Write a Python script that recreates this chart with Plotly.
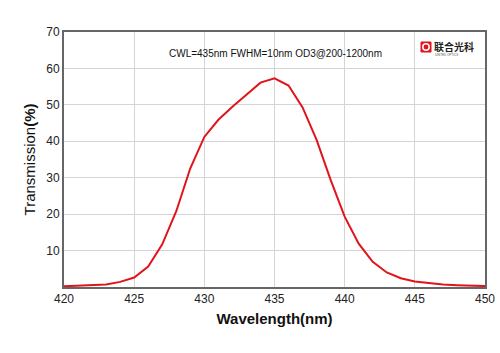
import plotly.graph_objects as go

wavelength = list(range(420, 451))
transmission = [0.2, 0.3, 0.4, 0.7, 1.4, 2.6, 5.6, 11.7, 20.8, 32.6, 41.2,
                45.9, 49.5, 52.8, 56.1, 57.3, 55.3, 49.3, 40.4, 29.4, 19.3,
                11.9, 6.9, 4.0, 2.4, 1.5, 1.0, 0.7, 0.5, 0.35, 0.25]
x_ticks = [420, 425, 430, 435, 440, 445, 450]
y_ticks = [10, 20, 30, 40, 50, 60, 70]
note = "CWL=435nm FWHM=10nm OD3@200-1200nm"

fig = go.Figure()
fig.add_trace(go.Scatter(x=wavelength, y=transmission, mode="lines",
                         line=dict(color="#e0141c", width=2), showlegend=False))

font = "Liberation Sans, Arial, sans-serif"
fig.update_layout(
    width=500, height=353,
    margin=dict(l=64, r=15, t=32, b=66, autoexpand=False),
    paper_bgcolor="white", plot_bgcolor="white",
    font=dict(family=font, color="#222"),
    xaxis=dict(range=[420, 450], tickvals=x_ticks, showgrid=True, automargin=False,
               gridcolor="#d4d4d4", gridwidth=1.3, showline=True, linecolor="#666",
               linewidth=2, mirror=True, ticks="", zeroline=False,
               tickfont=dict(size=12, family=font, color="#222"),
               title=dict(text="<b>Wavelength(nm)</b>", font=dict(size=15, family=font, color="#111"),
                          standoff=8)),
    yaxis=dict(range=[0, 70], tickvals=y_ticks, showgrid=True, automargin=False,
               gridcolor="#d4d4d4", gridwidth=1.3, showline=True, linecolor="#666",
               linewidth=2, mirror=True, ticks="", zeroline=False,
               tickfont=dict(size=12, family=font, color="#222"),
               title=dict(text="Transmission<b>(%)</b>", font=dict(size=15, family=font, color="#111"),
                          standoff=7)),
)


def px(xp):
    return (xp - 64) / (485 - 64)


def py(yp):
    return 1 - (yp - 32) / (287 - 32)


fig.add_annotation(x=px(275), y=py(46), xref="paper", yref="paper", text=note, showarrow=False,
                   font=dict(size=10, family=font, color="#111"))

# logo
fig.add_shape(type="rect", xref="paper", yref="paper", x0=px(421), x1=px(431), y0=py(52), y1=py(42),
              fillcolor="#e0141c", line=dict(color="#e0141c", width=1))
fig.add_shape(type="circle", xref="paper", yref="paper", x0=px(422.8), x1=px(429.2), y0=py(50.2), y1=py(43.8),
              fillcolor="#e0141c", line=dict(color="white", width=1.5))
fig.add_annotation(x=px(432), y=py(46.5), xref="paper", yref="paper", xanchor="left", yanchor="middle",
                   text="<b>联合光科</b>", showarrow=False,
                   font=dict(size=10, family="Noto Sans CJK SC", color="#222"))
fig.add_annotation(x=px(432.5), y=py(55), xref="paper", yref="paper", xanchor="left", yanchor="middle",
                   text="UNITED OPTICS", showarrow=False,
                   font=dict(size=3, family=font, color="#555"))

fig.write_html("out.html")
